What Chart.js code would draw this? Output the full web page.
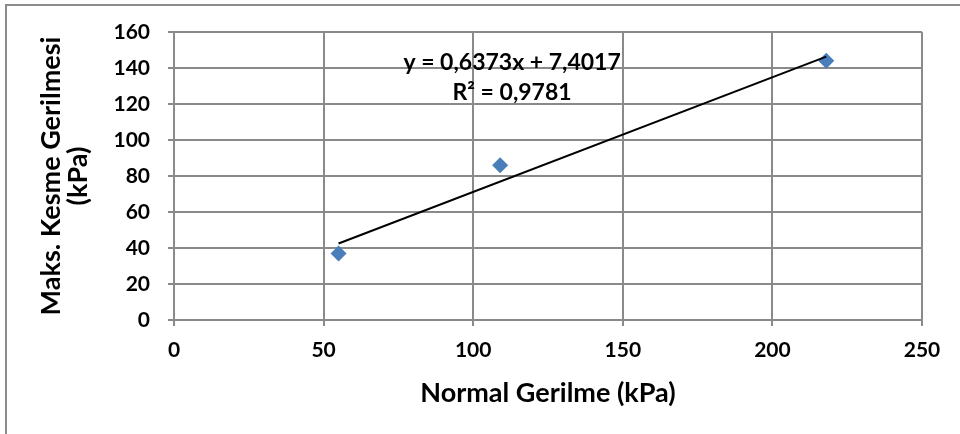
<!DOCTYPE html>
<html>
<head>
<meta charset="utf-8">
<script src="https://cdn.jsdelivr.net/npm/chart.js@4.4.1/dist/chart.umd.min.js"></script>
<style>
  html, body { margin: 0; padding: 0; background: #ffffff; }
  #wrap { position: relative; width: 960px; height: 434px; overflow: hidden; }
  #frame { position: absolute; left: 5px; top: 4px; width: 1000px; height: 500px;
           border-top: 2px solid #8c8c8c; border-left: 2px solid #8c8c8c; pointer-events: none; }
  canvas { position: absolute; left: 0; top: 0; }
</style>
</head>
<body>
<div id="wrap">
  <canvas id="c" width="960" height="434"></canvas>
  <div id="frame"></div>
</div>
<script>
// ---- data ----
const normalStress = [55, 109, 218];          // x, kPa
const shearStress  = [37, 86, 144];           // y, kPa
const trendX = [55, 218];                     // trendline ends (x)
const trendY = [42.5, 146.3];                 // trendline ends (y)
const xTicks = [0, 50, 100, 150, 200, 250];
const yTicks = [0, 20, 40, 60, 80, 100, 120, 140, 160];
const equationLines = ['y = 0,6373x + 7,4017', 'R² = 0,9781'];
const equationAnchor = [113, 142.8];          // data coords of first line's centre
const xTitle = 'Normal Gerilme (kPa)';
const yTitle = ['Maks. Kesme Gerilmesi', '(kPa)'];

const FONT = 'Lato, "Open Sans", "DejaVu Sans", sans-serif';
const GRID = '#8a8a8a';

const points = normalStress.map((x, i) => ({ x: x, y: shearStress[i] }));
const trend = trendX.map((x, i) => ({ x: x, y: trendY[i] }));

const equationPlugin = {
  id: 'equation',
  afterDatasetsDraw(chart) {
    const { ctx, scales } = chart;
    const cx = scales.x.getPixelForValue(equationAnchor[0]);
    const cy = scales.y.getPixelForValue(equationAnchor[1]);
    ctx.save();
    ctx.font = 'bold 23px ' + FONT;
    ctx.fillStyle = '#000000';
    ctx.textAlign = 'center';
    ctx.textBaseline = 'middle';
    equationLines.forEach((t, i) => ctx.fillText(t, cx, cy + i * 30));
    ctx.restore();
  }
};

new Chart(document.getElementById('c'), {
  type: 'scatter',
  data: {
    datasets: [
      {
        type: 'line',
        data: trend,
        borderColor: '#000000',
        borderWidth: 2,
        pointRadius: 0,
        fill: false,
        tension: 0
      },
      {
        data: points,
        pointStyle: 'rectRot',
        pointRadius: 8,
        backgroundColor: '#4a7ebb',
        borderColor: '#4a7ebb',
        borderWidth: 0
      }
    ]
  },
  options: {
    responsive: false,
    animation: false,
    events: [],
    layout: { padding: { left: 0, top: 32, right: 38, bottom: 0 } },
    plugins: { legend: { display: false }, tooltip: { enabled: false } },
    scales: {
      x: {
        type: 'linear',
        min: 0, max: 250,
        afterBuildTicks: (s) => { s.ticks = xTicks.map(v => ({ value: v })); },
        afterFit: (s) => { s.height = 114; },
        grid: { color: GRID, lineWidth: 2, tickLength: 6, drawTicks: true },
        border: { color: GRID, width: 2 },
        ticks: { color: '#000', font: { family: FONT, size: 21, weight: 'bold' }, padding: 12, maxRotation: 0 },
        title: { display: true, text: xTitle, color: '#000',
                 font: { family: FONT, size: 27, weight: 'bold' }, padding: { top: 0, bottom: 25 } }
      },
      y: {
        type: 'linear',
        min: 0, max: 160,
        afterBuildTicks: (s) => { s.ticks = yTicks.map(v => ({ value: v })); },
        afterFit: (s) => { s.width = 174; },
        grid: { color: GRID, lineWidth: 2, tickLength: 6, drawTicks: true },
        border: { color: GRID, width: 2 },
        ticks: { color: '#000', font: { family: FONT, size: 21, weight: 'bold' }, padding: 18 },
        title: { display: true, text: yTitle, color: '#000',
                 font: { family: FONT, size: 27, weight: 'bold', lineHeight: 1.0 }, padding: { top: 38, bottom: 0 } }
      }
    }
  },
  plugins: [equationPlugin]
});
</script>
</body>
</html>
